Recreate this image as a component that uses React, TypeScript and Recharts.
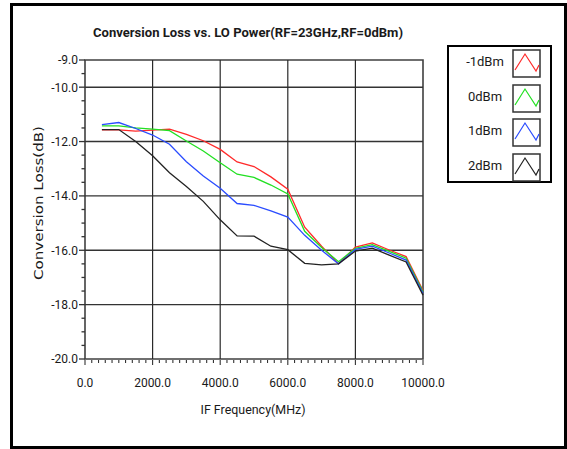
import React from "react";
import { LineChart, Line, XAxis, YAxis, ReferenceLine, ReferenceArea, Legend } from "recharts";

// IF frequency points (MHz)
const freqs = [500, 1000, 1500, 2000, 2500, 3000, 3500, 4000, 4500, 5000, 5500, 6000, 6500, 7000, 7500, 8000, 8500, 9000, 9500, 10000];

// conversion loss (dB) per LO power
const lossM1 = [-11.57, -11.57, -11.62, -11.58, -11.54, -11.74, -11.97, -12.29, -12.75, -12.92, -13.3, -13.75, -15.15, -15.85, -16.5, -15.88, -15.73, -15.99, -16.23, -17.48];
const loss0 = [-11.42, -11.42, -11.5, -11.54, -11.6, -11.98, -12.35, -12.78, -13.2, -13.32, -13.6, -13.93, -15.3, -15.9, -16.42, -15.93, -15.79, -16.04, -16.29, -17.53];
const loss1 = [-11.38, -11.3, -11.52, -11.76, -12.1, -12.74, -13.27, -13.72, -14.28, -14.35, -14.55, -14.78, -15.45, -16.0, -16.5, -15.97, -15.85, -16.1, -16.36, -17.58];
const loss2 = [-11.56, -11.56, -12.0, -12.52, -13.15, -13.65, -14.2, -14.88, -15.47, -15.48, -15.85, -15.98, -16.48, -16.54, -16.5, -16.03, -15.92, -16.18, -16.43, -17.65];

const seriesKeys = ["m1", "p0", "p1", "p2"];
const seriesNames = ["-1dBm", "0dBm", "1dBm", "2dBm"];
const seriesColors = ["#ff2a2a", "#22e022", "#2a4cff", "#222222"];

const yMajorTicks = [-9, -10, -12, -14, -16, -18, -20];
const xMajorTicks = [0, 2000, 4000, 6000, 8000, 10000];
const yGrid = [-10, -12, -14, -16, -18];
const xGrid = [2000, 4000, 6000, 8000];

const data = freqs.map((f, i) => ({ f, m1: lossM1[i], p0: loss0[i], p1: loss1[i], p2: loss2[i] }));

const yTicks: number[] = [];
for (let v = -9; v >= -20; v -= 0.5) yTicks.push(v);
const xTicks: number[] = [];
for (let v = 0; v <= 10000; v += 200) xTicks.push(v);

const tickFont = { fontFamily: "Roboto", fontSize: 12, fill: "#1a1a1a" };

const YTick = (props: any) => {
  const { x, y, payload } = props;
  const v = payload.value;
  const major = yMajorTicks.includes(v);
  return (
    <g>
      <line x1={x - (major ? 6 : 3.5)} x2={x} y1={y} y2={y} stroke="#333" strokeWidth={1.3} />
      {major && (
        <text x={x - 7} y={y} dy="0.36em" textAnchor="end" {...tickFont}>
          {v.toFixed(1)}
        </text>
      )}
    </g>
  );
};

const XTick = (props: any) => {
  const { x, y, payload } = props;
  const v = payload.value;
  const major = xMajorTicks.includes(v);
  return (
    <g>
      <line x1={x} x2={x} y1={y + 1} y2={y + (major ? 6 : 4)} stroke="#333" strokeWidth={1.1} />
      {major && (
        <text x={x} y={y + 28} textAnchor="middle" {...tickFont}>
          {v.toFixed(1)}
        </text>
      )}
    </g>
  );
};

const LegendBox = (props: any) => {
  const items = [...(props.payload || [])].sort(
    (a: any, b: any) => seriesNames.indexOf(a.value) - seriesNames.indexOf(b.value)
  );
  return (
    <div
      style={{
        width: 105,
        height: 138,
        boxSizing: "border-box",
        border: "2px solid #000",
        background: "#fff",
        position: "relative",
      }}
    >
      {items.map((it: any, i: number) => (
        <div key={it.value} style={{ position: "absolute", left: 0, top: 2 + i * 34.7, width: 101, height: 30 }}>
          <div
            style={{
              position: "absolute",
              left: 6,
              width: 60,
              top: 5,
              textAlign: "center",
              fontFamily: "Roboto",
              fontSize: 13,
              color: "#1a1a1a",
            }}
          >
            {it.value}
          </div>
          <svg style={{ position: "absolute", left: 63, top: 0 }} width={29} height={29}>
            <rect x={1} y={1} width={27} height={27} fill="#fff" stroke="#333" strokeWidth={1.5} />
            <polyline points="3,21 13,5 24,22 27,16" fill="none" stroke={it.color} strokeWidth={1.2} />
          </svg>
        </div>
      ))}
    </div>
  );
};

export default function App() {
  return (
    <div style={{ position: "absolute", left: 0, top: 0, width: 567, height: 449, background: "#fff" }}>
      <LineChart width={567} height={449} data={data} margin={{ top: 60, right: 144, bottom: 0, left: 0 }}>
        <XAxis
          dataKey="f"
          type="number"
          domain={[0, 10000]}
          ticks={xTicks}
          interval={0}
          tick={<XTick />}
          tickLine={false}
          axisLine={false}
          tickSize={0}
          tickMargin={0}
          height={90}
        />
        <YAxis
          type="number"
          domain={[-20, -9]}
          ticks={yTicks}
          interval={0}
          tick={<YTick />}
          tickLine={false}
          axisLine={false}
          tickSize={0}
          tickMargin={0}
          width={85}
          allowDataOverflow
        />
        {yGrid.map((v) => (
          <ReferenceLine key={"y" + v} y={v} stroke="#333" strokeWidth={1.4} />
        ))}
        {xGrid.map((v) => (
          <ReferenceLine key={"x" + v} x={v} stroke="#2a2a2a" strokeWidth={1.2} />
        ))}
        <ReferenceArea x1={0} x2={10000} y1={-20} y2={-9} fill="none" stroke="#404040" strokeWidth={1.6} />
        {seriesKeys.map((k, i) => (
          <Line
            key={k}
            dataKey={k}
            name={seriesNames[i]}
            stroke={seriesColors[i]}
            strokeWidth={1.3}
            dot={false}
            type="linear"
            isAnimationActive={false}
          />
        ))}
        <Legend
          layout="vertical"
          align="center"
          verticalAlign="middle"
          content={<LegendBox />}
          wrapperStyle={{ left: 447, top: 45, width: 105, height: 138 }}
        />
      </LineChart>
      <svg
        width={567}
        height={449}
        style={{ position: "absolute", left: 0, top: 0, pointerEvents: "none" }}
      >
        <text
          x={248}
          y={37}
          textAnchor="middle"
          fontFamily="Roboto"
          fontWeight={700}
          fontSize={13.5}
          fill="#1a1a1a"
          textLength={310}
          lengthAdjust="spacingAndGlyphs"
        >
          Conversion Loss vs. LO Power(RF=23GHz,RF=0dBm)
        </text>
        <text
          x={38}
          y={203}
          transform="rotate(-90, 38, 203)"
          textAnchor="middle"
          dominantBaseline="central"
          fontFamily="DejaVu Sans"
          fontSize={12.5}
          fill="#1a1a1a"
          textLength={154}
          lengthAdjust="spacingAndGlyphs"
        >
          Conversion Loss(dB)
        </text>
        <text
          x={253}
          y={414}
          textAnchor="middle"
          fontFamily="Roboto"
          fontSize={12.5}
          fill="#1a1a1a"
          textLength={105}
          lengthAdjust="spacingAndGlyphs"
        >
          IF Frequency(MHz)
        </text>
        <rect x={11.5} y={4.5} width={554} height={443} fill="none" stroke="#000" strokeWidth={3} />
      </svg>
    </div>
  );
}
